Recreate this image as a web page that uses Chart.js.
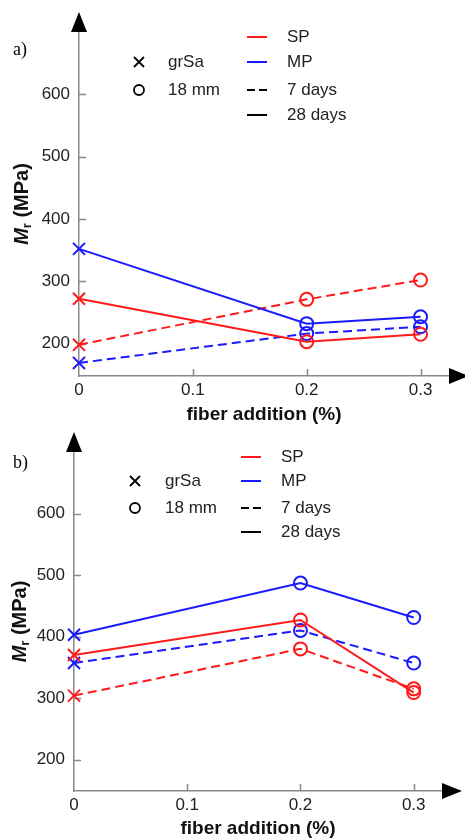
<!DOCTYPE html>
<html lang="en">
<head>
    <meta charset="UTF-8">
    <title>Mr | fiber addition</title>
    <script src="https://cdn.jsdelivr.net/npm/chart.js"></script>
    <style>
        html, body { margin: 0; padding: 0; background: #fff; overflow: hidden; width: 465px; height: 839px; }
        .panel { position: absolute; left: 0; width: 465px; height: 430px; }
    </style>
</head>
<body>
    <div class="panel" style="top: 0;"><canvas id="chartA" width="465" height="430"></canvas></div>
    <div class="panel" style="top: 420px;"><canvas id="chartB" width="465" height="430"></canvas></div>
<script>
    // x positions and marker type of each point
    const fiberAdd = [0, 0.2, 0.3];
    const fiberType = ['grSa', '18 mm', '18 mm'];
    const fiberNames = ['grSa', '18 mm'];
    const mixNames = ['SP', 'MP'];
    const ageNames = ['7 days', '28 days'];
    const xTicks = [0, 0.1, 0.2, 0.3];
    const yTicks = [200, 300, 400, 500, 600];

    // panel a)
    const spA7 = [198, 271, 302];
    const spA28 = [272, 203, 215];
    const mpA7 = [169, 216, 227];
    const mpA28 = [352, 232, 243];

    // panel b)
    const spB7 = [304, 380, 315];
    const spB28 = [370, 427, 309];
    const mpB7 = [357, 410, 357];
    const mpB28 = [403, 487, 431];

    const RED = '#ff1a1a';
    const BLUE = '#1a1aff';
    const AXIS = '#8a8a8a';
    const TXT = '#222';
    const FONT = '"Liberation Sans", Arial, Helvetica, sans-serif';

    function serie(vals, color, dashed) {
        return {
            data: fiberAdd.map((x, i) => ({ x: x, y: vals[i] })),
            borderColor: color,
            backgroundColor: color,
            borderWidth: 2,
            borderDash: dashed ? [9, 5] : [],
            tension: 0,
            fill: false,
            clip: false,
            pointStyle: c => fiberType[c.dataIndex] === 'grSa' ? 'crossRot' : 'circle',
            pointRadius: c => fiberType[c.dataIndex] === 'grSa' ? 8.5 : 6.5,
            pointBorderWidth: 2,
            pointBorderColor: color,
            pointBackgroundColor: 'rgba(0,0,0,0)'
        };
    }

    // ticks, arrows, legend, panel letter and y title
    const decor = {
        id: 'decor',
        beforeDatasetsDraw(chart, args, p) {
            const ctx = chart.ctx, a = chart.chartArea;
            const xs = chart.scales.x, ys = chart.scales.y;
            ctx.save();
            ctx.strokeStyle = AXIS;
            ctx.lineWidth = 1.5;
            ctx.beginPath();
            xs.ticks.forEach(t => {
                if (t.value === 0) return;
                const px = Math.round(xs.getPixelForValue(t.value)) + 0.5;
                ctx.moveTo(px, a.bottom);
                ctx.lineTo(px, a.bottom - 7);
            });
            ys.ticks.forEach(t => {
                const py = Math.round(ys.getPixelForValue(t.value)) + 0.5;
                ctx.moveTo(a.left, py);
                ctx.lineTo(a.left + 7, py);
            });
            ctx.stroke();

            // arrows
            ctx.fillStyle = '#000';
            ctx.beginPath();
            ctx.moveTo(a.left, a.top - 20);
            ctx.lineTo(a.left - 8, a.top);
            ctx.lineTo(a.left + 8, a.top);
            ctx.closePath();
            ctx.fill();
            ctx.beginPath();
            ctx.moveTo(a.right + 20, a.bottom);
            ctx.lineTo(a.right, a.bottom - 8);
            ctx.lineTo(a.right, a.bottom + 8);
            ctx.closePath();
            ctx.fill();

            // panel letter
            ctx.fillStyle = '#000';
            ctx.font = '18px "Liberation Serif", "Times New Roman", serif';
            ctx.textBaseline = 'middle';
            ctx.textAlign = 'left';
            ctx.fillText(p.letter, 13, p.letterY);

            // legend
            const L = a.left, T = a.top;
            ctx.font = '17px ' + FONT;
            ctx.fillStyle = TXT;
            ctx.strokeStyle = '#000';
            ctx.lineWidth = 1.8;
            const mx = L + p.markX;
            let y = T + p.rows[1];
            ctx.beginPath();
            ctx.moveTo(mx - 5, y - 5); ctx.lineTo(mx + 5, y + 5);
            ctx.moveTo(mx - 5, y + 5); ctx.lineTo(mx + 5, y - 5);
            ctx.stroke();
            ctx.fillText(fiberNames[0], L + p.markText, y);
            y = T + p.rows[2];
            ctx.beginPath();
            ctx.arc(mx, y, 5, 0, Math.PI * 2);
            ctx.stroke();
            ctx.fillText(fiberNames[1], L + p.markText, y);

            const lx = L + p.lineX;
            const lineRows = [
                { label: mixNames[0], color: RED, dash: [] },
                { label: mixNames[1], color: BLUE, dash: [] },
                { label: ageNames[0], color: '#000', dash: [8, 4] },
                { label: ageNames[1], color: '#000', dash: [] }
            ];
            lineRows.forEach((r, i) => {
                const ry = T + p.rows[i];
                ctx.strokeStyle = r.color;
                ctx.lineWidth = 2;
                ctx.setLineDash(r.dash);
                ctx.beginPath();
                ctx.moveTo(lx, ry);
                ctx.lineTo(lx + 20, ry);
                ctx.stroke();
                ctx.setLineDash([]);
                ctx.fillText(r.label, lx + 40, ry);
            });

            // y title: M (italic) with subscript r
            ctx.translate(p.yTitleX, (a.top + a.bottom) / 2);
            ctx.rotate(-Math.PI / 2);
            const fM = 'italic bold 20px ' + FONT;
            const fR = 'bold 13px ' + FONT;
            const fRest = 'bold 20px ' + FONT;
            ctx.font = fM; const wM = ctx.measureText('M').width;
            ctx.font = fR; const wR = ctx.measureText('r').width;
            ctx.font = fRest; const wRest = ctx.measureText(' (MPa)').width;
            let x = -(wM + wR + wRest) / 2;
            ctx.fillStyle = '#111';
            ctx.font = fM; ctx.fillText('M', x, 0); x += wM;
            ctx.font = fR; ctx.fillText('r', x, 5); x += wR;
            ctx.font = fRest; ctx.fillText(' (MPa)', x, 0);
            ctx.restore();
        }
    };

    function makeChart(id, sets, lay) {
        const ctx = document.getElementById(id).getContext('2d');
        return new Chart(ctx, {
            type: 'line',
            data: { datasets: sets },
            plugins: [decor],
            options: {
                responsive: false,
                animation: false,
                devicePixelRatio: 1,
                layout: { padding: { top: lay.top, right: lay.right, left: 0, bottom: 0 } },
                plugins: {
                    legend: { display: false },
                    tooltip: { enabled: false },
                    decor: lay
                },
                scales: {
                    x: {
                        type: 'linear',
                        min: 0,
                        max: 0.325,
                        afterBuildTicks: s => { s.ticks = xTicks.map(v => ({ value: v })); },
                        afterFit: s => { s.height = lay.xHeight; },
                        ticks: {
                            color: TXT,
                            font: { family: FONT, size: 17 },
                            padding: 4,
                            maxRotation: 0,
                            callback: v => String(v)
                        },
                        grid: { display: false, drawTicks: false },
                        border: { display: true, color: AXIS, width: 1.5 },
                        title: {
                            display: true,
                            text: 'fiber addition (%)',
                            color: '#111',
                            font: { family: FONT, size: 19, weight: 'bold' },
                            padding: { top: 0, bottom: lay.titlePad }
                        }
                    },
                    y: {
                        type: 'linear',
                        min: lay.yMin,
                        max: 700,
                        afterBuildTicks: s => { s.ticks = yTicks.map(v => ({ value: v })); },
                        afterFit: s => { s.width = lay.yWidth; },
                        ticks: {
                            color: TXT,
                            font: { family: FONT, size: 17 },
                            padding: 9
                        },
                        grid: { display: false, drawTicks: false },
                        border: { display: true, color: AXIS, width: 1.5 }
                    }
                }
            }
        });
    }

    makeChart('chartA', [
        serie(spA28, RED, false),
        serie(mpA28, BLUE, false),
        serie(spA7, RED, true),
        serie(mpA7, BLUE, true)
    ], {
        letter: 'a)', letterY: 50,
        top: 32, right: 16, yWidth: 79, xHeight: 54, yMin: 148, titlePad: 4,
        yTitleX: 22, markX: 60, markText: 89, lineX: 168,
        rows: [5, 30, 58, 83]
    });

    makeChart('chartB', [
        serie(spB28, RED, false),
        serie(mpB28, BLUE, false),
        serie(spB7, RED, true),
        serie(mpB7, BLUE, true)
    ], {
        letter: 'b)', letterY: 43,
        top: 32, right: 23, yWidth: 74, xHeight: 59, yMin: 149, titlePad: 10,
        yTitleX: 20, markX: 61, markText: 91, lineX: 167,
        rows: [5, 29, 56, 80]
    });
</script>
</body>
</html>
